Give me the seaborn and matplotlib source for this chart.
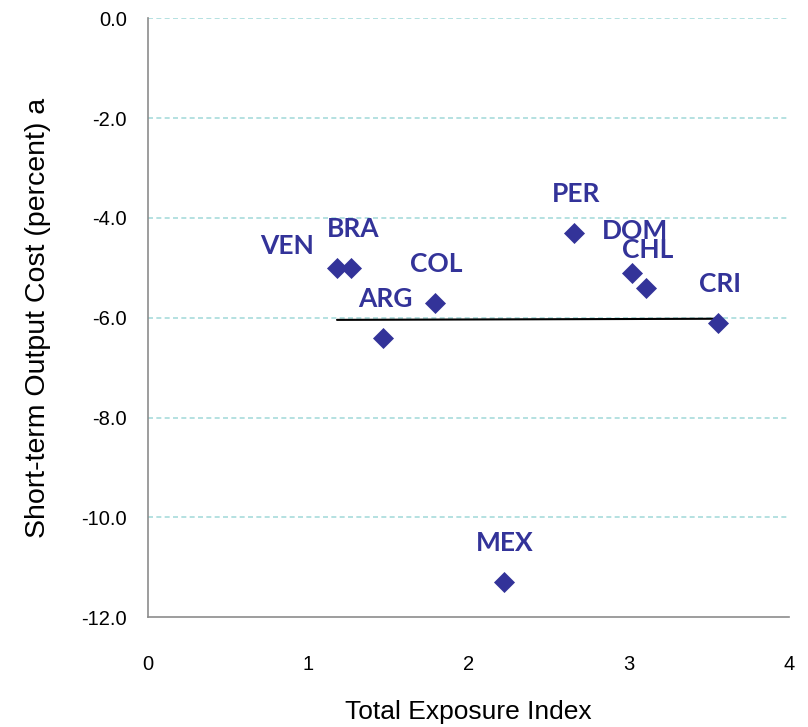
import matplotlib

matplotlib.use("Agg")

import matplotlib.pyplot as plt
import pandas as pd
import seaborn as sns
from matplotlib import font_manager

countries = ["VEN", "BRA", "ARG", "COL", "MEX", "PER", "DOM", "CHL", "CRI"]
exposure = [1.18, 1.27, 1.47, 1.79, 2.22, 2.66, 3.02, 3.11, 3.56]
output_cost = [-5.0, -5.0, -6.4, -5.7, -11.3, -4.3, -5.1, -5.4, -6.1]

# label offsets in points (default: centred above the marker)
label_offsets = {"VEN": (-36, 16), "DOM": (2, 30), "CHL": (1, 27)}
DEFAULT_OFFSET = (1, 28)

MARK = "#333399"


def main():
    sns.set_theme(style="white")
    plt.rcParams["font.family"] = ["Liberation Sans", "DejaVu Sans"]
    plt.rcParams["text.color"] = "black"
    plt.rcParams["axes.labelcolor"] = "black"

    names = {f.name for f in font_manager.fontManager.ttflist}
    if "Liberation Sans Narrow" in names:
        tick_family, tick_size = "Liberation Sans Narrow", 15.5
    else:
        tick_family, tick_size = "Liberation Sans", 14.5

    df = pd.DataFrame({"country": countries, "x": exposure, "y": output_cost})

    fig, ax = plt.subplots(figsize=(8.08, 7.27), dpi=100)
    fig.subplots_adjust(left=0.183, right=0.9765, top=0.975, bottom=0.151)

    # trend line first so the markers sit on top of it
    sns.regplot(data=df, x="x", y="y", scatter=False, ci=None, color="black",
                line_kws={"linewidth": 1.5}, ax=ax)
    sns.scatterplot(data=df, x="x", y="y", marker="D", s=115, color=MARK,
                    edgecolor=MARK, linewidth=0, zorder=3, ax=ax)

    for name, x, y in zip(countries, exposure, output_cost):
        ax.annotate(name, (x, y), xytext=label_offsets.get(name, DEFAULT_OFFSET),
                    textcoords="offset points", ha="center", va="center",
                    fontsize=19, fontweight="bold", color=MARK, family="Lato")

    ax.set_xlim(0, 4)
    ax.set_ylim(-12, 0)
    ax.set_xticks([0, 1, 2, 3, 4])
    ax.set_yticks([0, -2, -4, -6, -8, -10, -12])
    ax.set_yticklabels([f"{v:.1f}" for v in [0, -2, -4, -6, -8, -10, -12]])

    for v in [0, -2, -4, -6, -8, -10]:
        ax.axhline(v, color="#a8dcdc", linestyle=(0, (3, 2)), linewidth=1.2, zorder=0)

    for side in ["top", "right"]:
        ax.spines[side].set_visible(False)
    for side in ["left", "bottom"]:
        ax.spines[side].set_color("#8c8c8c")
        ax.spines[side].set_linewidth(1.2)
    ax.tick_params(axis="both", which="major", direction="out", length=7,
                   width=1.2, color="#8c8c8c", labelsize=tick_size, labelcolor="black")
    ax.tick_params(axis="x", pad=20)
    ax.tick_params(axis="y", pad=8)
    for lbl in ax.get_xticklabels() + ax.get_yticklabels():
        lbl.set_family(tick_family)

    ax.set_xlabel("Total Exposure Index", fontsize=19, labelpad=19)
    ax.set_ylabel("Short-term Output Cost (percent) a", fontsize=20.5, labelpad=22)

    fig.savefig("out.png", dpi=100)
    plt.close(fig)


if __name__ == "__main__":
    main()
